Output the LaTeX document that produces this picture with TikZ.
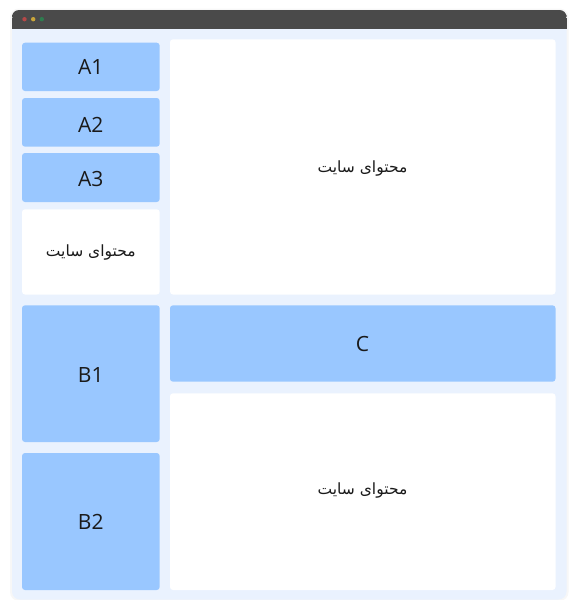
\documentclass[tikz,border=0pt]{standalone}
\usepackage{fontspec}
\setmainfont{Open Sans}
\newfontfamily\arabicfont[Script=Arabic]{DejaVu Sans}
\TeXXeTstate=1
\definecolor{barc}{HTML}{4A4A4A}
\definecolor{bodyc}{HTML}{EAF2FE}
\definecolor{bluec}{HTML}{99C7FF}
\definecolor{dotr}{HTML}{B54848}
\definecolor{doty}{HTML}{C9A53A}
\definecolor{dotg}{HTML}{2E7D4F}
\definecolor{txt}{HTML}{1A1A1A}
\tikzset{
  bluebox/.style={fill=bluec, rounded corners=3pt, draw=none},
  whitebox/.style={fill=white, rounded corners=3pt, draw=none},
  lbl/.style={font=\fontsize{21}{24}\selectfont, text=txt},
  fa/.style={font=\arabicfont\fontsize{15.5}{18}\selectfont, text=txt}
}
\begin{document}
\begin{tikzpicture}[x=1pt,y=-1pt]
\useasboundingbox (0,0) rectangle (579,600);
\fill[white] (0,0) rectangle (579,600);
% shadow
\fill[black!3, rounded corners=9pt] (10,8.5) rectangle (568.5,601);
% window body
\fill[bodyc, rounded corners=8pt] (12,20) rectangle (566.5,599.5);
% title bar
\fill[barc, rounded corners=7pt] (12,10) rectangle (566.5,22);
\fill[barc] (12,18) rectangle (566.5,28.5);
\fill[dotr] (24.5,19.2) circle (2.2);
\fill[doty] (33.2,19.2) circle (2.2);
\fill[dotg] (41.8,19.2) circle (2.2);
% boxes
\path[bluebox] (22,42.7) rectangle (159.7,91);
\node[lbl] (A1) at (90.8,67) {A1};
\path[bluebox] (22,98) rectangle (159.7,146.7);
\node[lbl] (A2) at (90.8,124.5) {A2};
\path[bluebox] (22,153) rectangle (159.7,202);
\node[lbl] (A3) at (90.8,178.5) {A3};
\path[whitebox] (22,209.3) rectangle (159.7,294.5);
\node[fa] (T1) at (90.8,252) {\beginR محتوای سایت\endR};
\path[whitebox] (170,39.3) rectangle (555.5,294.5);
\node[fa] (T2) at (362.5,168) {\beginR محتوای سایت\endR};
\path[bluebox] (22,305.3) rectangle (159.7,442);
\node[lbl] (B1) at (90.8,374.5) {B1};
\path[bluebox] (22,453) rectangle (159.7,590);
\node[lbl] (B2) at (90.8,522) {B2};
\path[bluebox] (170,305.3) rectangle (555.5,381.7);
\node[lbl] (C) at (362.5,344) {C};
\path[whitebox] (170,393.3) rectangle (555.5,590);
\node[fa] (T3) at (362.5,490) {\beginR محتوای سایت\endR};
\end{tikzpicture}
\end{document}
